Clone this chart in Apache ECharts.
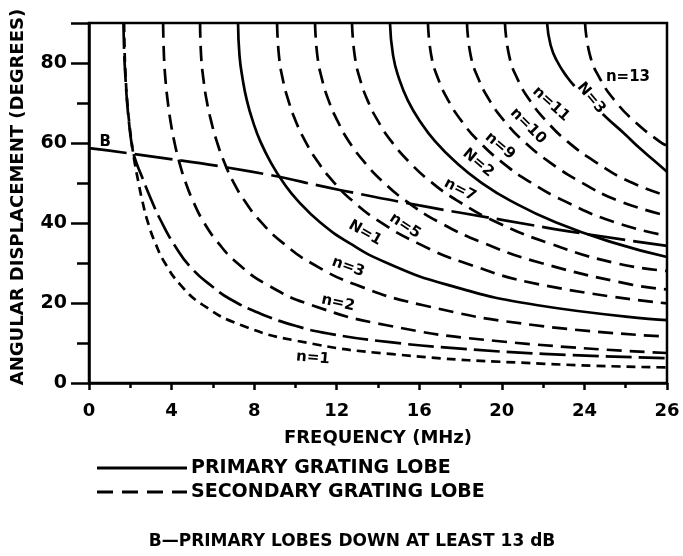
<!DOCTYPE html>
<html><head><meta charset="utf-8">
<script src="https://cdn.jsdelivr.net/npm/echarts@6/dist/echarts.min.js"></script>
<style>html,body{margin:0;padding:0;background:#fff}#c{width:683px;height:556px}</style>
</head><body><div id="c"></div>
<script>
// ---- tick labels ----
const xLabelValues = [0, 4, 8, 12, 16, 20, 24, 28];
const xLabelTexts  = ['0', '4', '8', '12', '16', '20', '24', '26'];
const yLabelValues = [0, 20, 40, 60, 80];

// ---- curves: [frequency MHz, angular displacement deg] ----
const n1  = [[1.70,90],[1.73,82],[1.78,76],[1.85,70.5],[1.95,65],[2.07,60],[2.2,55.5],[2.39,50.3],[2.58,45.6],[2.85,40.2],[3.22,34.9],[3.68,30],[4.42,24.6],[5.52,19.5],[7.36,14.5],[10.12,10.5],[14.72,7.2],[22.08,4.8],[28,3.9]];
const nX  = [[1.67,90],[1.71,82],[1.77,76],[1.84,70.5],[1.94,65],[2.06,60],[2.2,56.5],[2.57,51.5],[3.0,46],[3.44,41],[4.2,34],[5.0,28.5],[6.0,24],[6.83,21],[8.28,17.4],[10,14.3],[11.68,12.3],[14.58,10.2],[18,8.6],[22,7.3],[28,6.2]];
const n2  = [[3.59,90],[3.63,81.9],[3.70,76.1],[3.81,70.6],[3.95,65.4],[4.13,60.4],[4.38,55.1],[4.67,50.3],[5.03,45.6],[5.56,40.2],[6.28,34.9],[7.18,30],[8.62,24.6],[10.77,19.5],[14.36,14.5],[19.75,10.5],[28,7.5]];
const n3  = [[5.38,90],[5.43,81.9],[5.54,76.1],[5.70,70.6],[5.92,65.4],[6.19,60.4],[6.56,55.1],[6.99,50.3],[7.53,45.6],[8.34,40.2],[9.42,34.9],[10.76,30],[12.91,24.6],[16.14,19.5],[21.52,14.5],[28,11.6]];
const N1  = [[7.22,90],[7.29,81.9],[7.44,76.1],[7.65,70.6],[7.94,65.4],[8.30,60.4],[8.81,55.1],[9.39,50.3],[10.11,45.6],[11.19,40.2],[12.64,34.9],[14.44,30],[17.33,24.6],[21.66,19.5],[28,15.7]];
const n5  = [[9.11,90],[9.20,81.9],[9.38,76.1],[9.66,70.6],[10.02,65.4],[10.48,60.4],[11.11,55.1],[11.84,50.3],[12.75,45.6],[14.12,40.2],[15.94,34.9],[18.22,30],[21.86,24.6],[28,19.9]];
const n6  = [[10.95,90],[11.06,81.9],[11.28,76.1],[11.61,70.6],[12.05,65.4],[12.59,60.4],[13.36,55.1],[14.24,50.3],[15.33,45.6],[16.97,40.2],[19.16,34.9],[21.9,30],[26.28,24.6],[28,23.4]];
const n7  = [[12.74,90],[12.87,81.9],[13.12,76.1],[13.5,70.6],[14.01,65.4],[14.65,60.4],[15.54,55.1],[16.56,50.3],[17.84,45.6],[19.75,40.2],[22.3,34.9],[25.48,30],[28,28]];
const N2  = [[14.58,90],[14.73,81.9],[15.02,76.1],[15.45,70.6],[16.04,65.4],[16.77,60.4],[17.79,55.1],[18.95,50.3],[20.41,45.6],[22.6,40.2],[25.52,34.9],[28,31.5]];
const n9  = [[16.42,90],[16.58,81.9],[16.91,76.1],[17.41,70.6],[18.06,65.4],[18.88,60.4],[20.03,55.1],[21.35,50.3],[22.99,45.6],[25.45,40.2],[28,36.8]];
const n10 = [[18.31,90],[18.49,81.9],[18.86,76.1],[19.41,70.6],[20.14,65.4],[21.06,60.4],[22.34,55.1],[23.8,50.3],[25.63,45.6],[28,41.8]];
const n11 = [[20.15,90],[20.35,81.9],[20.75,76.1],[21.36,70.6],[22.17,65.4],[23.17,60.4],[24.58,55.1],[26.2,50.3],[28,46.8]];
const N3  = [[22.19,90],[22.36,84.5],[22.67,80.5],[23.16,76.5],[23.6,73.8],[24.3,70.2],[25.1,66.2],[25.9,62.5],[26.7,58.6],[27.4,55.5],[28,52.8]];
const n13 = [[24.03,90],[24.27,81.9],[24.75,76.1],[25.47,70.6],[26.43,65.4],[27.63,60.4],[28,59.3]];
const bLine = [[0,58.7],[2.1,57.3],[7.8,52.9],[12.2,48.2],[16,44.4],[20,40.8],[24,37.3],[28,34.3]];

// ---- curve labels ----
const labelTexts = ['n=13','N=3','n=11','n=10','n=9','N=2','n=7','n=5','N=1','n=3','n=2','n=1','B'];
const labelFreq  = [26.11, 24.32, 22.38, 21.27, 19.91, 18.85, 17.97, 15.31, 13.37, 12.55, 12.06, 10.85, 0.78];
const labelAngle = [76.5, 71.25, 69.75, 64.25, 59.25, 55, 48.25, 39.25, 37.5, 29, 20, 6.25, 60.25];
const labelRot   = [0, -50, -42, -45, -40, -40, -27, -33, -30, -20, -12, -5, 0];

const FONT = '"DejaVu Sans", "Liberation Sans", sans-serif';
const DASH = [15, 8];
function curve(name, data, type) {
  return { name, type: 'line', data, symbol: 'none', showSymbol: false, smooth: 0.5,
    silent: true, animation: false, z: 3, lineStyle: { color: '#000', width: 2.7, type: type } };
}

const legendGraphic = [
  { type: 'line', shape: { x1: 97, y1: 468, x2: 187, y2: 468 }, style: { stroke: '#000', lineWidth: 3 } },
  { type: 'text', x: 191, y: 468, style: { text: 'PRIMARY GRATING LOBE', font: 'bold 19px ' + FONT, fill: '#000', verticalAlign: 'middle', textVerticalAlign: 'middle' } },
  { type: 'line', shape: { x1: 97, y1: 492, x2: 187, y2: 492 }, style: { stroke: '#000', lineWidth: 3, lineDash: [16, 9] } },
  { type: 'text', x: 191, y: 492, style: { text: 'SECONDARY GRATING LOBE', font: 'bold 19px ' + FONT, fill: '#000', verticalAlign: 'middle', textVerticalAlign: 'middle' } },
  { type: 'text', x: 352, y: 542, style: { text: 'B\u2014PRIMARY LOBES DOWN AT LEAST 13 dB', font: 'bold 17px ' + FONT, fill: '#000', align: 'center', textAlign: 'center', verticalAlign: 'middle', textVerticalAlign: 'middle' } }
];

const chart = echarts.init(document.getElementById('c'));
chart.setOption({
  animation: false,
  backgroundColor: '#fff',
  grid: { left: 89, right: 16, top: 23, bottom: 173, show: true, borderColor: '#000', borderWidth: 2.5 },
  xAxis: {
    type: 'value', min: 0, max: 28, interval: 4,
    axisLine: { lineStyle: { color: '#000', width: 2.5 } },
    axisTick: { length: 7, lineStyle: { color: '#000', width: 2.5 } },
    minorTick: { show: true, splitNumber: 2, length: 5, lineStyle: { color: '#000', width: 2.5 } },
    splitLine: { show: false }, minorSplitLine: { show: false },
    axisLabel: { margin: 19, color: '#000', fontSize: 18, fontWeight: 'bold', fontFamily: FONT,
      formatter: v => { const i = xLabelValues.indexOf(v); return i >= 0 ? xLabelTexts[i] : ''; } },
    name: 'FREQUENCY (MHz)', nameLocation: 'middle', nameGap: 46,
    nameTextStyle: { color: '#000', fontSize: 18, fontWeight: 'bold', fontFamily: FONT }
  },
  yAxis: [{
    type: 'value', min: 0, max: 90, interval: 20,
    axisLine: { lineStyle: { color: '#000', width: 2.5 } },
    axisTick: { length: 18, lineStyle: { color: '#000', width: 2.5 } },
    splitLine: { show: false },
    axisLabel: { margin: 22, color: '#000', fontSize: 19, fontWeight: 'bold', fontFamily: FONT,
      formatter: v => yLabelValues.indexOf(v) >= 0 ? String(v) : '' },
    name: 'ANGULAR DISPLACEMENT (DEGREES)', nameLocation: 'middle', nameGap: 62, nameRotate: 90,
    nameTextStyle: { color: '#000', fontSize: 18, fontWeight: 'bold', fontFamily: FONT, padding: [0, 0, 0, 12] }
  }, {
    type: 'value', min: 0, max: 90, interval: 10, position: 'left',
    axisLine: { show: false }, axisLabel: { show: false }, splitLine: { show: false },
    axisTick: { length: 12, lineStyle: { color: '#000', width: 2.5 } }
  }],
  series: [
    curve('n=1', n1, [9, 6]),
    curve('n=1b', nX, [26, 7]),
    curve('n=2', n2, DASH),
    curve('n=3', n3, DASH),
    curve('N=1', N1, 'solid'),
    curve('n=5', n5, DASH),
    curve('n=6', n6, DASH),
    curve('n=7', n7, DASH),
    curve('N=2', N2, 'solid'),
    curve('n=9', n9, DASH),
    curve('n=10', n10, DASH),
    curve('n=11', n11, DASH),
    curve('N=3', N3, 'solid'),
    curve('n=13', n13, DASH),
    curve('B', bLine, [38, 8])
  ],
  graphic: legendGraphic
});

// curve labels placed through the chart's own coordinate conversion
const labelGraphic = labelTexts.map((t, i) => {
  const p = chart.convertToPixel({ gridIndex: 0 }, [labelFreq[i], labelAngle[i]]);
  const primary = t.charAt(0) === 'N';
  return { type: 'text', x: p[0], y: p[1], rotation: labelRot[i] * Math.PI / 180, z: 10,
    style: { text: t, font: 'bold 15px ' + FONT, fill: '#000', align: 'center', textAlign: 'center',
      verticalAlign: 'middle', textVerticalAlign: 'middle',
      backgroundColor: primary ? '#fff' : null, padding: primary ? [1, 2] : 0 } };
});
chart.setOption({ graphic: legendGraphic.concat(labelGraphic) });
</script></body></html>
